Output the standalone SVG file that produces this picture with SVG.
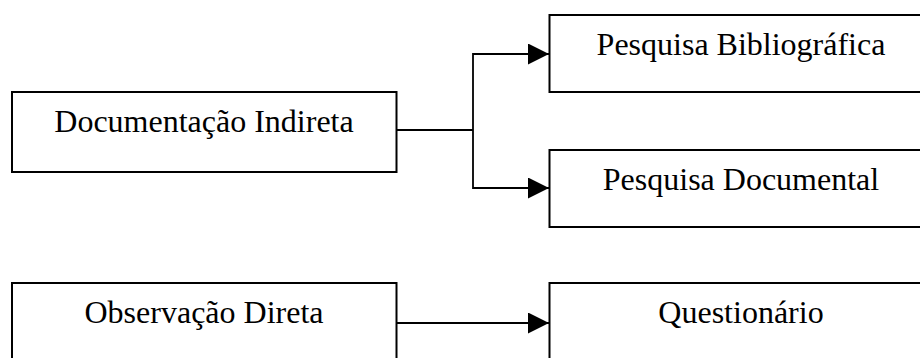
<svg xmlns="http://www.w3.org/2000/svg" width="920" height="358" viewBox="0 0 920 358">
<style>
.box{fill:#fff;stroke:#000;stroke-width:2}
.lbl{font-family:"Liberation Serif","Times New Roman",serif;font-size:32px;fill:#000;text-anchor:middle}
.con{fill:none;stroke:#000;stroke-width:1.8}
</style>
<defs>
<marker id="arr" markerUnits="userSpaceOnUse" markerWidth="21" markerHeight="21" refX="21" refY="10.5" orient="auto">
<path d="M0,0 L21,10.5 L0,21 Z" fill="#000"/>
</marker>
</defs>
<rect width="920" height="358" fill="#fff"/>
<g id="connectors">
<path class="con" d="M397,130 H473"/>
<path class="con" d="M549,54 H473 V188 H549" marker-end="url(#arr)"/>
<path class="con" d="M473,54 H549" marker-end="url(#arr)"/>
<path class="con" d="M397,323 H549" marker-end="url(#arr)"/>
</g>
<g id="doc-indireta">
<rect class="box" x="12" y="92" width="384.5" height="80"/>
<text class="lbl" x="204" y="132">Documentação Indireta</text>
</g>
<g id="pesq-bib">
<rect class="box" x="549.5" y="15" width="384" height="77"/>
<text class="lbl" x="741" y="55">Pesquisa Bibliográfica</text>
</g>
<g id="pesq-doc">
<rect class="box" x="549.5" y="150" width="384" height="77"/>
<text class="lbl" x="741" y="190">Pesquisa Documental</text>
</g>
<g id="obs-direta">
<rect class="box" x="12" y="283" width="384.5" height="100"/>
<text class="lbl" x="204" y="323">Observação Direta</text>
</g>
<g id="questionario">
<rect class="box" x="549.5" y="283" width="384" height="100"/>
<text class="lbl" x="741" y="323">Questionário</text>
</g>
</svg>
